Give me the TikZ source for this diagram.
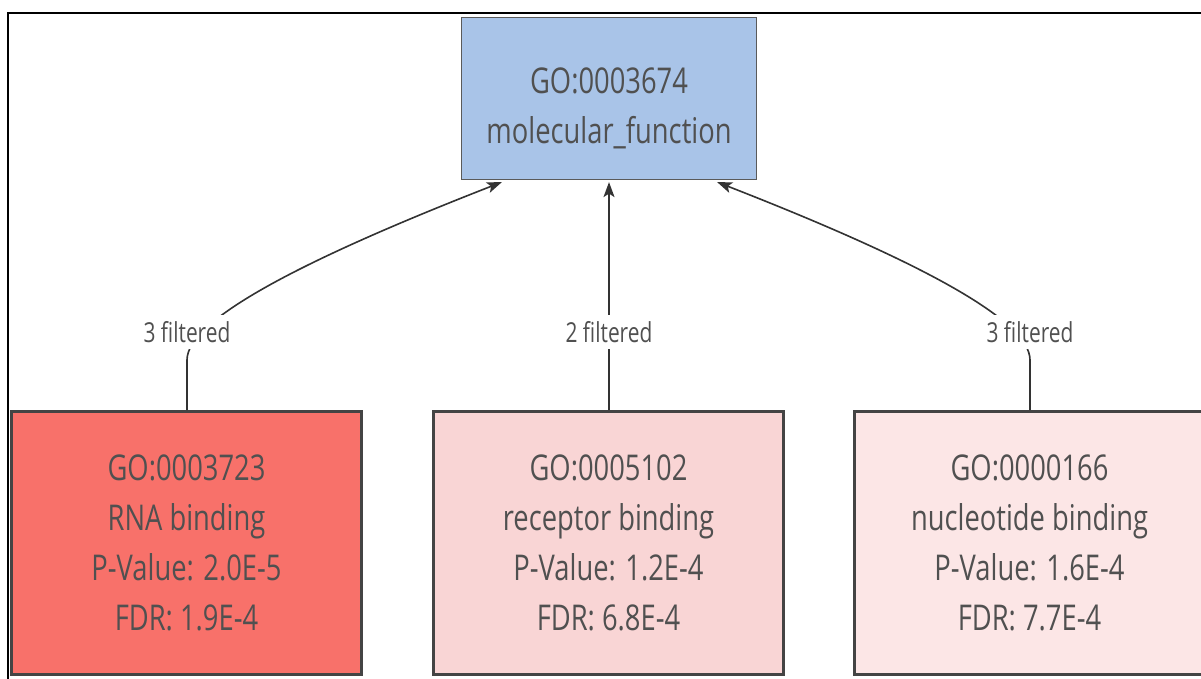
\documentclass[tikz,border=0pt]{standalone}
\usepackage{fontspec}
\usetikzlibrary{arrows.meta}
\newfontfamily\boxfont[FakeStretch=0.77]{Open Sans}
\newfontfamily\lblfont[FakeStretch=0.76]{Open Sans}
\definecolor{topfill}{HTML}{A9C4E8}
\definecolor{topline}{HTML}{5A5A5A}
\definecolor{hotfill}{HTML}{F8716A}
\definecolor{midfill}{HTML}{F9D5D5}
\definecolor{lowfill}{HTML}{FCE6E6}
\definecolor{boxline}{HTML}{444444}
\definecolor{txt}{HTML}{505050}
\definecolor{edgecol}{HTML}{333333}
\tikzset{
  termbox/.style={draw=boxline, line width=3pt, minimum width=350pt,
    minimum height=263pt, inner sep=0pt, align=center, text=txt,
    font=\boxfont\fontsize{35.5}{50}\selectfont},
  rootbox/.style={draw=topline, line width=1.2pt, fill=topfill,
    minimum width=295pt, minimum height=162pt, inner sep=0pt,
    align=center, text=txt, font=\boxfont\fontsize{35.5}{50}\selectfont},
  edgelbl/.style={fill=white, inner xsep=4pt, inner ysep=6pt, text=txt,
    font=\lblfont\fontsize{27.5}{30}\selectfont},
  link/.style={draw=edgecol, line width=1.6pt,
    -{Stealth[length=15pt,width=11pt,inset=3.5pt]}}
}
\begin{document}
\begin{tikzpicture}[x=1pt,y=-1pt]
\useasboundingbox (0,0) rectangle (1201,678);
\clip (0,0) rectangle (1201,678);
% outer frame
\draw[black, line width=2pt] (8,690) -- (8,13) -- (1215,13);
% GO term boxes
\node[rootbox] (root) at (609,98.5) {\rule{0pt}{45pt}GO:0003674\\molecular\_function};
\node[termbox, fill=hotfill] (rna) at (186.5,543) {GO:0003723\\RNA binding\\P-Value: 2.0E-5\\FDR: 1.9E-4};
\node[termbox, fill=midfill] (rec) at (608.5,543) {GO:0005102\\receptor binding\\P-Value: 1.2E-4\\FDR: 6.8E-4};
\node[termbox, fill=lowfill] (nuc) at (1029.5,543) {GO:0000166\\nucleotide binding\\P-Value: 1.6E-4\\FDR: 7.7E-4};
% connectors to the parent term
\draw[link] ([xshift=0.5pt]rna.north) -- ++(0,-50)
  .. controls +(0,-40) and +(-200,78) .. ([xshift=41pt,yshift=-2pt]root.south west);
\draw[link] ([xshift=0.5pt]rec.north) -- ([yshift=-2pt]root.south);
\draw[link] ([xshift=0.5pt]nuc.north) -- ++(0,-50)
  .. controls +(0,-40) and +(200,78) .. ([xshift=-40pt,yshift=-2pt]root.south east);
% edge labels
\node[edgelbl] (l1) at (187,332) {3 filtered};
\node[edgelbl] (l2) at (609,332) {2 filtered};
\node[edgelbl] (l3) at (1030,332) {3 filtered};
\end{tikzpicture}
\end{document}
